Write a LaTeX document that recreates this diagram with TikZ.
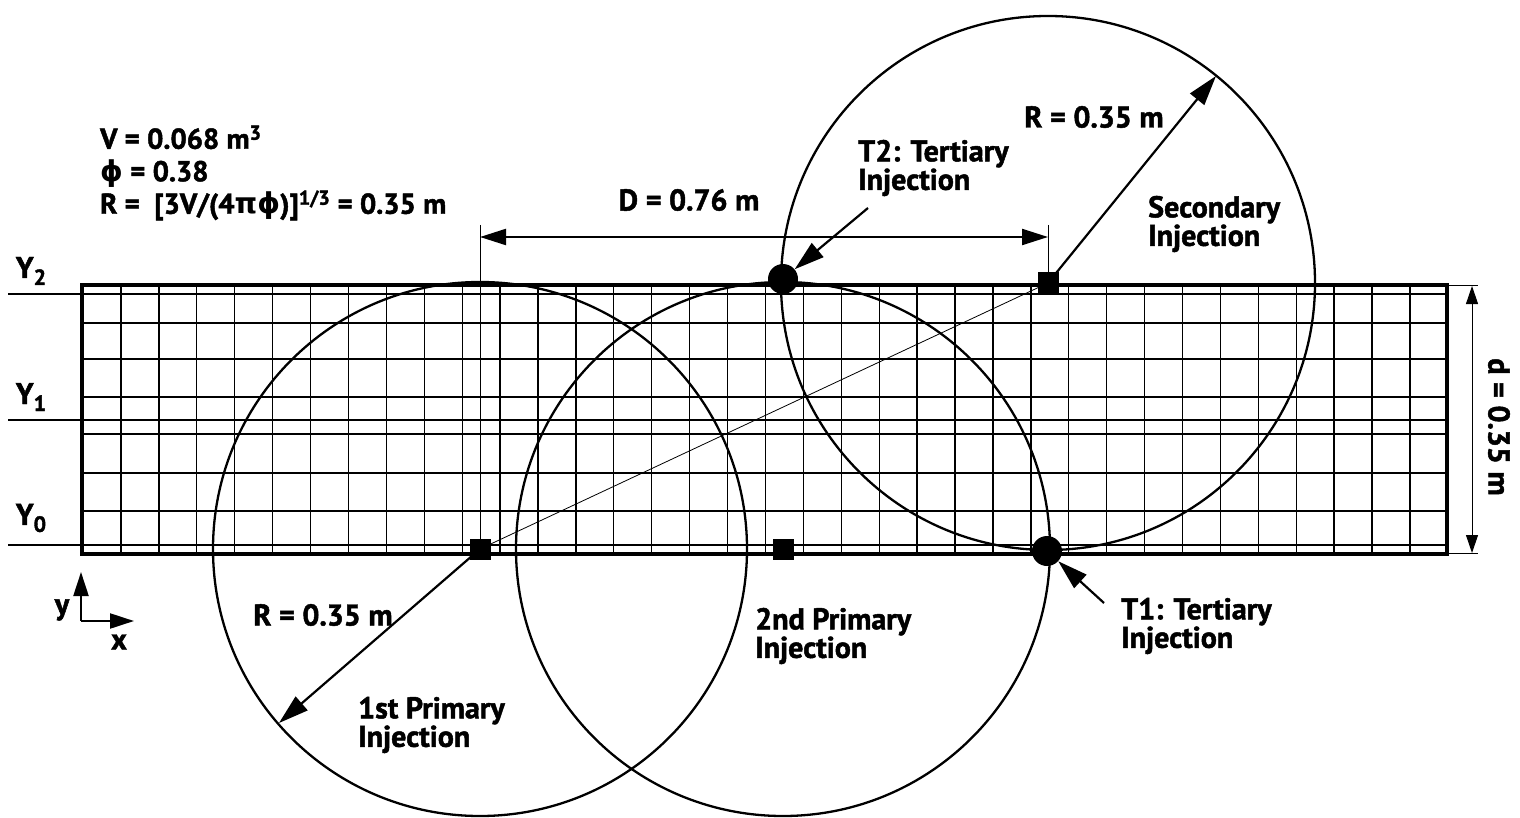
\documentclass[tikz,border=0pt]{standalone}
\usepackage{fontspec}
\setmainfont{PT Sans}[BoldFeatures={FakeBold=1.6}]
\newfontfamily\gk{DejaVu Sans}
\usetikzlibrary{arrows.meta}
\begin{document}
\begin{tikzpicture}[x=1pt,y=-1pt,
  lbl/.style={font=\fontsize{30}{28.5}\selectfont\bfseries, inner sep=0pt, align=left},
  toplbl/.style={font=\fontsize{28.7}{32.5}\selectfont\bfseries, inner sep=0pt, align=left},
  gridline/.style={line width=1.3pt},
  yline/.style={line width=2.3pt},
  border/.style={line width=3.2pt},
  circ/.style={line width=2.3pt},
  thin/.style={line width=0.8pt},
  bigarrow/.style={line width=2.2pt, -{Triangle[length=30pt,width=18pt]}},
  dimarrow/.style={line width=2.2pt, {Triangle[length=26pt,width=16pt]}-{Triangle[length=26pt,width=16pt]}},
  darrow/.style={line width=1pt, {Triangle[length=18pt,width=12pt]}-{Triangle[length=18pt,width=12pt]}},
  axarrow/.style={line width=2.2pt, -{Triangle[length=24pt,width=15pt]}},
  sqbox/.style={rectangle, fill=black, minimum size=21pt, inner sep=0pt},
  tdot/.style={circle, fill=black, minimum size=30pt, inner sep=0pt}
]
\useasboundingbox (0,0) rectangle (1520,818);

% grid
\foreach \k in {0,...,34} {
  \draw[gridline] ({121+\k*37.91},285) -- ({121+\k*37.91},554);
}
\foreach \yy in {323,359,397,434,473,511} {
  \draw[gridline] (82,\yy) -- (1447,\yy);
}
\draw[yline] (8,294) -- (1447,294);
\draw[yline] (8,420) -- (1447,420);
\draw[yline] (8,545) -- (1447,545);
\draw[border] (82,285) rectangle (1447,554);

% centres
\coordinate (c1) at (480,549);
\coordinate (c2) at (783,549);
\coordinate (c3) at (1048,283);

% circles
\draw[circ] (c1) circle[radius=267];
\draw[circ] (c2) circle[radius=267];
\draw[circ] (c3) circle[radius=267];

% thin line
\draw[thin] (c1) -- (c3);

% injection points
\node[sqbox] (s1) at (c1) {};
\node[sqbox] (s2) at (c2) {};
\node[sqbox] (s3) at (c3) {};
\node[tdot] (t2) at (783,279) {};
\node[tdot] (t1) at (1047,551) {};

% D dimension
\coordinate (dl) at (480,237);
\coordinate (dr) at (1048,237);
\coordinate (dlt) at (480,225);
\coordinate (drt) at (1048,225);
\draw[thin] (dlt) -- (s1.center);
\draw[thin] (drt) -- (s3.center);
\draw[dimarrow] (dl) -- (dr);
\node[lbl] (Dlab) at (689,200) {D = 0.76 m};

% d dimension
\coordinate (e1a) at (1447,285);
\coordinate (e1b) at (1478,285);
\coordinate (e2a) at (1447,553);
\coordinate (e2b) at (1478,553);
\draw[thin] (e1a) -- (e1b);
\draw[thin] (e2a) -- (e2b);
\coordinate (da) at (1472,286);
\coordinate (db) at (1472,553);
\draw[darrow] (da) -- (db);
\node[lbl, rotate=-90] (dlab) at (1499,427) {d = 0.35 m};

% R arrows
\coordinate (r1) at (279,723);
\coordinate (r3) at (1216,76);
\draw[bigarrow] (s1.center) -- (r1);
\draw[bigarrow] (s3.center) -- (r3);
\node[lbl] (R1lab) at (323,615) {R = 0.35 m};
\node[lbl] (R3lab) at (1094,117) {R = 0.35 m};

% T arrows
\node[lbl, anchor=west] (T2lab) at (858,168) {T2: Tertiary\\Injection};
\node[lbl, anchor=west] (T1lab) at (1121,626) {T1: Tertiary\\Injection};
\coordinate (t2tail) at (868,208);
\coordinate (t1tail) at (1104,603);
\draw[bigarrow] (t2tail) -- (t2);
\draw[bigarrow] (t1tail) -- (t1);

% other labels
\node[lbl, anchor=west] (secl) at (1148,224) {Secondary\\Injection};
\node[lbl, anchor=west] (p1l) at (358,725) {1st Primary\\Injection};
\node[lbl, anchor=west] (p2l) at (755,636) {2nd Primary\\Injection};

% top-left
\node[toplbl, anchor=west] (info) at (100,173) {V = 0.068 m\textsuperscript{3}\\{\gk ϕ} = 0.38\\R =\ \ [3V/(4{\gk π}{\gk ϕ})]\textsuperscript{1/3} = 0.35 m};

% Y labels
\node[lbl] (Y2) at (31,271) {Y\raisebox{-7pt}{\fontsize{22}{22}\selectfont 2}};
\node[lbl] (Y1) at (31,397) {Y\raisebox{-7pt}{\fontsize{22}{22}\selectfont 1}};
\node[lbl] (Y0) at (31,518) {Y\raisebox{-7pt}{\fontsize{22}{22}\selectfont 0}};

% axes
\coordinate (ax0) at (81,621);
\coordinate (axy) at (81,572);
\coordinate (axx) at (134,621);
\draw[axarrow] (ax0) -- (axy);
\draw[axarrow] (ax0) -- (axx);
\node[lbl] (ylab) at (62,610) {y};
\node[lbl] (xlab) at (119,642) {x};
\end{tikzpicture}
\end{document}
